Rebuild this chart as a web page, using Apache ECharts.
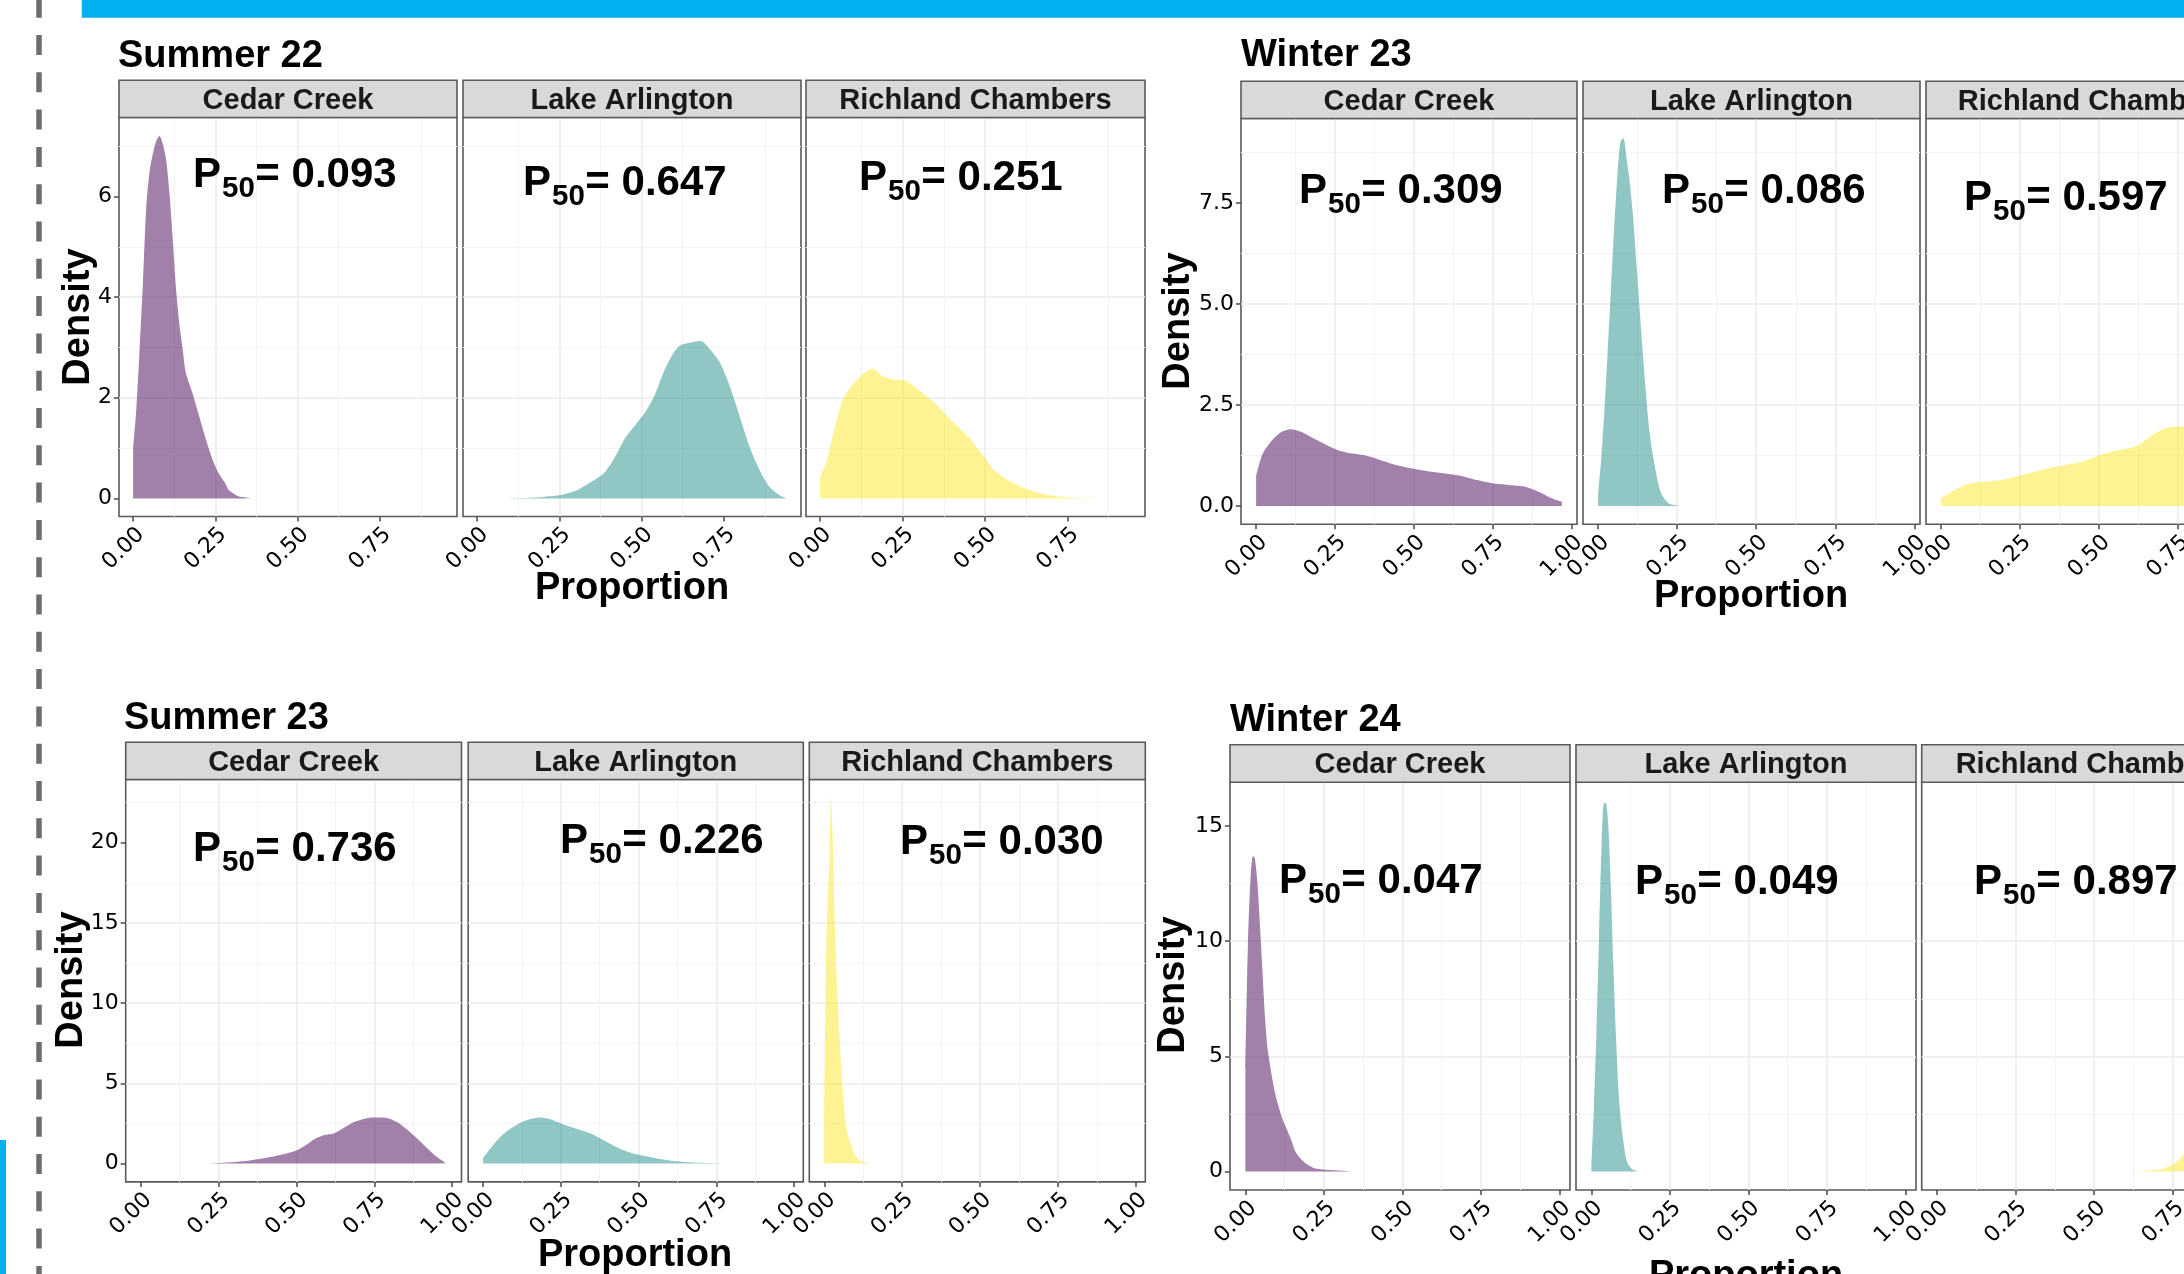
<!DOCTYPE html>
<html><head><meta charset="utf-8">
<script src="https://cdn.jsdelivr.net/npm/echarts@6/dist/echarts.min.js"></script>
<style>html,body{margin:0;padding:0;background:#fff;overflow:hidden;width:2184px;height:1274px}#c{width:2320px;height:1274px}</style>
</head><body><div id="c"></div>
<script>
// ---------------- DATA ----------------
const seasons = ['Summer 22', 'Winter 23', 'Summer 23', 'Winter 24'];
const sites = ['Cedar Creek', 'Lake Arlington', 'Richland Chambers'];
const xTickValues = [0, 0.25, 0.5, 0.75, 1];
const yTicksS22 = [0, 2, 4, 6];
const yTicksW23 = [0, 2.5, 5, 7.5];
const yTicksS23 = [0, 5, 10, 15, 20];
const yTicksW24 = [0, 5, 10, 15];
const p50S22 = ['0.093', '0.647', '0.251'];
const p50W23 = ['0.309', '0.086', '0.597'];
const p50S23 = ['0.736', '0.226', '0.030'];
const p50W24 = ['0.047', '0.049', '0.897'];

// Summer 22
const s22CedarX = [0, 0.01, 0.02, 0.03, 0.04, 0.05, 0.06, 0.07, 0.08, 0.09, 0.10, 0.11, 0.12, 0.13, 0.14, 0.15, 0.16, 0.18, 0.20, 0.22, 0.24, 0.26, 0.28, 0.29, 0.30, 0.32, 0.34, 0.36];
const s22CedarY = [1.0, 1.8, 3.0, 4.3, 5.8, 6.5, 6.85, 7.1, 7.2, 7.05, 6.75, 6.1, 5.2, 4.2, 3.5, 3.0, 2.5, 2.1, 1.65, 1.2, 0.8, 0.5, 0.3, 0.17, 0.12, 0.04, 0.02, 0.01];
const s22LakeX = [0.08, 0.15, 0.2, 0.25, 0.3, 0.33, 0.36, 0.39, 0.42, 0.45, 0.48, 0.51, 0.54, 0.57, 0.60, 0.62, 0.65, 0.68, 0.71, 0.74, 0.77, 0.80, 0.83, 0.86, 0.89, 0.92, 0.94];
const s22LakeY = [0.0, 0.01, 0.03, 0.06, 0.15, 0.26, 0.38, 0.53, 0.83, 1.2, 1.45, 1.7, 2.05, 2.55, 2.92, 3.05, 3.1, 3.13, 2.95, 2.68, 2.2, 1.6, 1.0, 0.55, 0.22, 0.06, 0.0];
const s22RichX = [0, 0.02, 0.04, 0.07, 0.10, 0.13, 0.16, 0.19, 0.22, 0.26, 0.30, 0.35, 0.40, 0.45, 0.50, 0.53, 0.57, 0.62, 0.68, 0.75, 0.82, 0.87];
const s22RichY = [0.41, 0.75, 1.3, 1.98, 2.27, 2.47, 2.58, 2.42, 2.37, 2.34, 2.15, 1.88, 1.53, 1.22, 0.8, 0.55, 0.36, 0.2, 0.08, 0.02, 0.005, 0];
// Winter 23
const w23CedarX = [0, 0.02, 0.05, 0.08, 0.11, 0.14, 0.18, 0.22, 0.26, 0.30, 0.35, 0.40, 0.45, 0.50, 0.55, 0.60, 0.65, 0.70, 0.75, 0.80, 0.85, 0.90, 0.94, 0.97];
const w23CedarY = [0.74, 1.28, 1.62, 1.83, 1.90, 1.84, 1.68, 1.52, 1.38, 1.3, 1.24, 1.12, 1.0, 0.92, 0.85, 0.8, 0.74, 0.64, 0.56, 0.52, 0.48, 0.34, 0.18, 0.1];
const w23LakeX = [0, 0.01, 0.02, 0.03, 0.04, 0.05, 0.06, 0.07, 0.08, 0.09, 0.10, 0.11, 0.12, 0.13, 0.14, 0.15, 0.16, 0.17, 0.18, 0.19, 0.20, 0.22, 0.24, 0.26];
const w23LakeY = [0.3, 1.2, 2.4, 3.8, 5.3, 6.8, 8.1, 9.0, 9.1, 8.6, 8.0, 7.2, 6.1, 5.0, 3.9, 2.9, 2.0, 1.4, 0.95, 0.55, 0.3, 0.08, 0.02, 0];
const w23RichX = [0, 0.04, 0.08, 0.12, 0.16, 0.20, 0.25, 0.30, 0.35, 0.40, 0.45, 0.50, 0.55, 0.60, 0.63, 0.66, 0.69, 0.72, 0.76, 0.80, 0.85, 0.90, 0.95, 0.98];
const w23RichY = [0.18, 0.38, 0.53, 0.59, 0.61, 0.65, 0.75, 0.85, 0.95, 1.02, 1.1, 1.25, 1.36, 1.43, 1.52, 1.7, 1.85, 1.94, 1.97, 1.95, 1.85, 1.7, 1.45, 1.25];
// Summer 23
const s23CedarX = [0.2, 0.25, 0.3, 0.35, 0.4, 0.45, 0.5, 0.53, 0.56, 0.59, 0.62, 0.65, 0.68, 0.71, 0.74, 0.77, 0.80, 0.83, 0.86, 0.89, 0.92, 0.95, 0.98];
const s23CedarY = [0.0, 0.04, 0.1, 0.2, 0.35, 0.55, 0.82, 1.15, 1.55, 1.78, 1.88, 2.2, 2.55, 2.75, 2.87, 2.88, 2.8, 2.5, 2.05, 1.52, 0.95, 0.42, 0.02];
const s23LakeX = [0, 0.03, 0.06, 0.09, 0.12, 0.15, 0.18, 0.21, 0.24, 0.27, 0.30, 0.33, 0.36, 0.39, 0.42, 0.45, 0.48, 0.52, 0.56, 0.60, 0.65, 0.70, 0.78];
const s23LakeY = [0.35, 1.1, 1.75, 2.2, 2.55, 2.77, 2.88, 2.8, 2.6, 2.36, 2.18, 1.98, 1.75, 1.42, 1.12, 0.85, 0.65, 0.48, 0.32, 0.2, 0.1, 0.05, 0];
const s23RichX = [0, 0.005, 0.01, 0.016, 0.022, 0.028, 0.034, 0.042, 0.05, 0.06, 0.07, 0.08, 0.09, 0.10, 0.115, 0.135, 0.16];
const s23RichY = [2.7, 12.0, 16.0, 18.6, 22.8, 19.8, 14.8, 10.6, 7.5, 4.5, 2.3, 1.5, 0.95, 0.5, 0.2, 0.06, 0];
// Winter 24
const w24CedarX = [0, 0.008, 0.016, 0.024, 0.03, 0.038, 0.046, 0.054, 0.062, 0.07, 0.08, 0.09, 0.10, 0.115, 0.13, 0.145, 0.16, 0.18, 0.2, 0.22, 0.25, 0.28, 0.31, 0.335];
const w24CedarY = [4.5, 9.8, 12.6, 13.7, 13.6, 12.6, 10.8, 8.8, 6.8, 5.4, 4.5, 3.7, 3.1, 2.4, 1.9, 1.4, 0.85, 0.5, 0.28, 0.14, 0.08, 0.05, 0.03, 0];
const w24LakeX = [0, 0.008, 0.016, 0.024, 0.032, 0.04, 0.046, 0.054, 0.062, 0.07, 0.078, 0.086, 0.094, 0.102, 0.11, 0.12, 0.13, 0.148];
const w24LakeY = [0.2, 2.8, 6.0, 10.0, 14.0, 16.0, 16.0, 15.0, 12.4, 9.0, 6.0, 3.6, 2.2, 1.3, 0.6, 0.25, 0.1, 0];
const w24RichX = [0.63, 0.68, 0.72, 0.75, 0.78, 0.80, 0.83, 0.86, 0.89, 0.92, 0.95, 0.98];
const w24RichY = [0, 0.05, 0.12, 0.3, 0.65, 1.1, 2.2, 3.8, 5.6, 6.9, 6.6, 5.2];

// ---------------- LAYOUT / STYLE ----------------
const FONT = '"Liberation Sans", Arial, sans-serif';
const TICKFONT = '"DejaVu Sans", Verdana, sans-serif';
const siteColors = ['#440154', '#21908C', '#FDE725'];
const rows = [
  { season: seasons[0], p50: p50S22, yTicks: yTicksS22, yFmt: v => String(v),
    curves: [[s22CedarX, s22CedarY], [s22LakeX, s22LakeY], [s22RichX, s22RichY]],
    xr: [-0.043, 0.985], yr: [-0.36, 7.57], yInt: 2,
    title: [118, 68.3], stripTop: 80.3, top: 117.5, bottom: 516.5,
    panels: [[119, 457], [463, 801], [806, 1145]],
    dens: [78.3, 317], prop: [632, 600], lab: [[193, 188], [523, 196], [859, 191]] },
  { season: seasons[1], p50: p50W23, yTicks: yTicksW23, yFmt: v => v.toFixed(1),
    curves: [[w23CedarX, w23CedarY], [w23LakeX, w23LakeY], [w23RichX, w23RichY]],
    xr: [-0.048, 1.018], yr: [-0.456, 9.59], yInt: 2.5,
    title: [1241, 67.3], stripTop: 81.2, top: 118.5, bottom: 524.3,
    panels: [[1241, 1577], [1583, 1920], [1926, 2262]],
    dens: [1178.7, 321], prop: [1751, 608], lab: [[1299, 204], [1662, 204], [1964, 211]] },
  { season: seasons[2], p50: p50S23, yTicks: yTicksS23, yFmt: v => String(v),
    curves: [[s23CedarX, s23CedarY], [s23LakeX, s23LakeY], [s23RichX, s23RichY]],
    xr: [-0.048, 1.03], yr: [-1.14, 23.94], yInt: 5,
    title: [124, 729.8], stripTop: 742.3, top: 779.5, bottom: 1181.9,
    panels: [[125.7, 461.5], [468.2, 803.3], [809.3, 1145.3]],
    dens: [71.7, 980], prop: [635, 1266.8], lab: [[193, 862], [560, 854], [900, 855]] },
  { season: seasons[3], p50: p50W24, yTicks: yTicksW24, yFmt: v => String(v),
    curves: [[w24CedarX, w24CedarY], [w24LakeX, w24LakeY], [w24RichX, w24RichY]],
    xr: [-0.049, 1.034], yr: [-0.805, 16.9], yInt: 5,
    title: [1230, 732.2], stripTop: 744.7, top: 782.3, bottom: 1190,
    panels: [[1230, 1570], [1576, 1916], [1921.7, 2262]],
    dens: [1174, 985], prop: [1746, 1287.9], lab: [[1279, 894], [1635, 895], [1974, 895]] }
];

const mctx = document.createElement('canvas').getContext('2d');
function tw(t, size) { mctx.font = 'bold ' + size + 'px ' + FONT; return mctx.measureText(t).width; }
function txt(t, x, y, size, opts) {
  opts = opts || {};
  return { type: 'text', z: 100, x: x, y: y, rotation: opts.rot || 0, silent: true,
    style: { text: t, x: 0, y: 0, fontSize: size, fontWeight: opts.weight || 'bold', fontFamily: FONT,
      fill: opts.color || '#000', align: opts.align || 'left', verticalAlign: 'middle' } };
}

const grids = [], xAxes = [], yAxes = [], series = [];
const graphics = [
  { type: 'rect', z: 100, shape: { x: 81.7, y: 0, width: 2240, height: 17.7 }, style: { fill: '#00B0F0' }, silent: true },
  { type: 'rect', z: 100, shape: { x: 0, y: 1140, width: 6, height: 140 }, style: { fill: '#00B0F0' }, silent: true },
  { type: 'line', z: 100, shape: { x1: 39, y1: -2.3, x2: 39, y2: 1290 }, style: { stroke: '#6d6d6d', lineWidth: 5.5, lineDash: [20, 17.3] }, silent: true }
];

rows.forEach((r, ri) => {
  graphics.push(txt(r.season, r.title[0], r.title[1] - 0.31 * 38, 38));
  graphics.push(txt('Density', r.dens[0], r.dens[1], 38, { rot: Math.PI / 2, align: 'center' }));
  graphics.push(txt('Proportion', r.prop[0], r.prop[1] - 0.31 * 38, 38, { align: 'center' }));
  r.panels.forEach((p, pi) => {
    const gi = grids.length;
    grids.push({ left: p[0], top: r.top, width: p[1] - p[0], height: r.bottom - r.top,
      show: true, borderColor: '#5a5a5a', borderWidth: 1.6, backgroundColor: '#fff', containLabel: false });
    const xt = xTickValues.filter(v => v >= r.xr[0] && v <= r.xr[1]);
    xAxes.push({ type: 'value', gridIndex: gi, position: 'bottom', min: r.xr[0], max: r.xr[1], minInterval: 0.25, maxInterval: 0.25,
      axisLine: { show: false, onZero: false },
      axisTick: { show: true, length: 5, lineStyle: { color: '#4a4a4a', width: 1.5 }, customValues: xt },
      axisLabel: { show: true, rotate: 45, align: 'right', verticalAlign: 'top', margin: 7, fontSize: 22,
        fontFamily: TICKFONT, color: '#000', showMinLabel: false, showMaxLabel: false, formatter: v => v.toFixed(2) },
      splitLine: { show: true, showMinLine: false, showMaxLine: false, lineStyle: { color: '#ebebeb', width: 1.5 } },
      minorTick: { show: false, splitNumber: 2 },
      minorSplitLine: { show: true, lineStyle: { color: '#f3f3f3', width: 1 } } });
    const left = pi === 0;
    yAxes.push({ type: 'value', gridIndex: gi, position: 'left', min: r.yr[0], max: r.yr[1], minInterval: r.yInt, maxInterval: r.yInt,
      axisLine: { show: false, onZero: false },
      axisTick: { show: left, length: 5, lineStyle: { color: '#4a4a4a', width: 1.5 }, customValues: r.yTicks },
      axisLabel: { show: left, margin: 7, fontSize: 22, fontFamily: TICKFONT, color: '#000',
        showMinLabel: false, showMaxLabel: false, formatter: r.yFmt },
      splitLine: { show: true, showMinLine: false, showMaxLine: false, lineStyle: { color: '#ebebeb', width: 1.5 } },
      minorTick: { show: false, splitNumber: 2 },
      minorSplitLine: { show: true, lineStyle: { color: '#f3f3f3', width: 1 } } });
    const cx = r.curves[pi][0], cy = r.curves[pi][1];
    series.push({ type: 'line', name: r.season + ' ' + sites[pi], xAxisIndex: gi, yAxisIndex: gi,
      data: cx.map((x, i) => [x, cy[i]]), showSymbol: false, symbol: 'none', smooth: 0.25, silent: true,
      animation: false, clip: true,
      lineStyle: { width: 0, opacity: 0 },
      areaStyle: { color: siteColors[pi], opacity: 0.5, origin: 'auto' } });
    // strip
    graphics.push({ type: 'rect', z: 100, silent: true,
      shape: { x: p[0], y: r.stripTop, width: p[1] - p[0], height: r.top - r.stripTop },
      style: { fill: '#d9d9d9', stroke: '#5a5a5a', lineWidth: 1.6 } });
    graphics.push(txt(sites[pi], (p[0] + p[1]) / 2, r.stripTop + 29.5 - 0.31 * 29, 29, { align: 'center', color: '#1a1a1a' }));
    // P50 annotation
    const lx = r.lab[pi][0], lb = r.lab[pi][1];
    const wP = tw('P', 42), w50 = tw('50', 29.5);
    graphics.push(txt('P', lx, lb - 0.31 * 42, 42));
    graphics.push(txt('50', lx + wP + 1, lb + 10 - 0.31 * 29.5, 29.5));
    graphics.push(txt('= ' + r.p50[pi], lx + wP + 1 + w50 + 0.5, lb - 0.31 * 42, 42));
  });
});

const chart = echarts.init(document.getElementById('c'), null, { renderer: 'canvas', width: 2320, height: 1274 });
chart.setOption({
  animation: false,
  backgroundColor: '#ffffff',
  grid: grids, xAxis: xAxes, yAxis: yAxes, series: series,
  graphic: { elements: graphics }
});
</script></body></html>
